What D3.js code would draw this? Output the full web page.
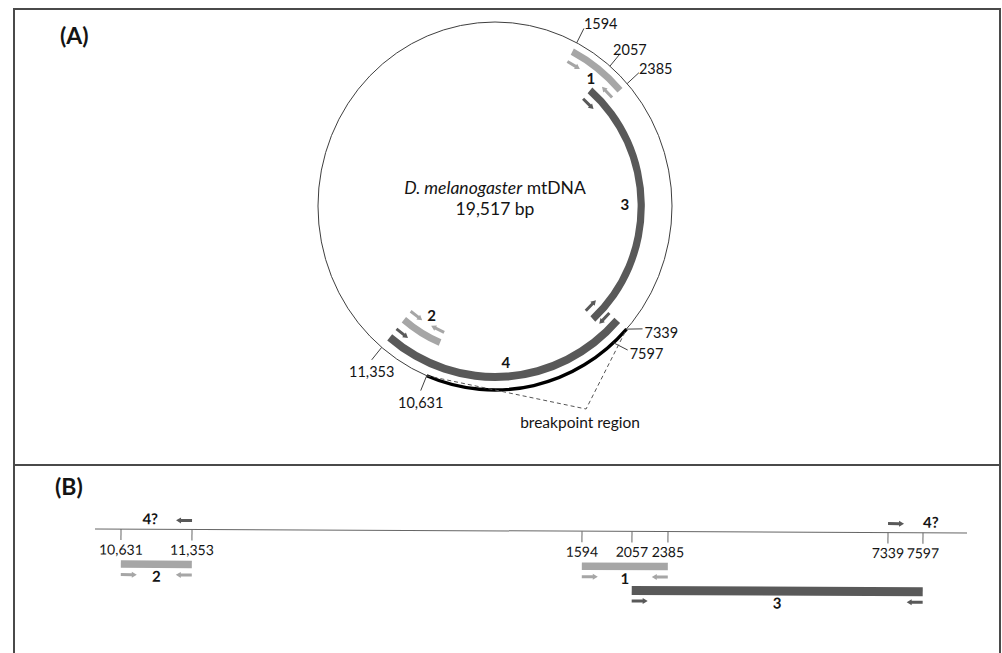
<!DOCTYPE html>
<html>
<head>
<meta charset="utf-8">
<script src="https://cdn.jsdelivr.net/npm/d3@7"></script>
<style>
  body { margin: 0; background: #fff; }
  svg { display: block; font-family: Lato, "Open Sans", sans-serif; }
</style>
</head>
<body>
<svg id="fig" width="1002" height="653"></svg>
<script>
// ---- data ----
const genomeSize = 19517;
const sitePos  = [1594, 2057, 2385, 7339, 7597, 10631, 11353];
const siteText = ["1594", "2057", "2385", "7339", "7597", "10,631", "11,353"];

const ampId    = ["1", "2", "3", "4"];
const ampStart = [1594, 10631, 2057, 7339];
const ampEnd   = [2385, 11353, 7597, 11353];
const ampTone  = ["light", "light", "dark", "dark"];

const breakpoint = [7339, 10631];

// panel B: linear view of the rearranged molecule, left to right
const linearSites = [10631, 11353, 1594, 2057, 2385, 7339, 7597];
const linearAmp   = ["2", "1", "3"];
// putative product 4: only the primers are shown
const q4Pos = [11353, 7339];
const q4Dir = [-1, 1];

const tone = { light: "#a6a6a6", dark: "#595959" };
const ink = "#141414";

const svg = d3.select("#fig");

// frame
const frame = svg.append("g").attr("fill", "none").attr("stroke", "#4a4a4a").attr("stroke-width", 2);
frame.append("path").attr("d", "M14,653V9H1000V653");
frame.append("line").attr("x1", 14).attr("x2", 1000).attr("y1", 465).attr("y2", 465);

svg.append("text").attr("x", 60).attr("y", 44).attr("font-size", 23).attr("font-weight", "bold").attr("fill", ink).text("(A)");
svg.append("text").attr("x", 55).attr("y", 495).attr("font-size", 23).attr("font-weight", "bold").attr("fill", ink).text("(B)");

// ---- panel A: circular map (schematic, not to scale) ----
const A = { cx: 495, cy: 206, r: 184, sx: 0.962 };
const rad = d => d * Math.PI / 180;
const angleOf = d3.scaleLinear()
  .domain([0, 1594, 2057, 2385, 7339, 7597, 10631, 11353, genomeSize])
  .range([0, 27.5, 40.5, 48.3, 132, 138, 202.7, 219.8, 360].map(rad));

const track = {
  "1": { r: 174, w: 7,   labelR: 162 },
  "2": { r: 148, w: 7,   labelR: 127 },
  "3": { r: 152, w: 7.5, labelR: 135 },
  "4": { r: 171, w: 8,   labelR: 156 }
};

function pt(a, r) { return [A.cx + A.sx * r * Math.sin(a), A.cy - r * Math.cos(a)]; }

function arrowShape(len, t, hw, hl) {
  return `M0,${-t / 2}H${len - hl}V${-hw}L${len},0L${len - hl},${hw}V${t / 2}H0Z`;
}

const gA = svg.append("g").attr("transform", `translate(${A.cx},${A.cy}) scale(${A.sx},1)`);
gA.append("circle").attr("r", A.r).attr("fill", "none").attr("stroke", "#3a3a3a").attr("stroke-width", 1);

const arc = d3.arc();
ampId.forEach((id, i) => {
  const t = track[id];
  gA.append("path")
    .attr("d", arc({ innerRadius: t.r - t.w / 2, outerRadius: t.r + t.w / 2,
      startAngle: angleOf(ampStart[i]), endAngle: angleOf(ampEnd[i]) }))
    .attr("fill", tone[ampTone[i]]);
});

// breakpoint region on the circle
gA.append("path")
  .attr("d", arc({ innerRadius: A.r - 1.7, outerRadius: A.r + 1.7,
    startAngle: angleOf(breakpoint[0]), endAngle: angleOf(breakpoint[1]) }))
  .attr("fill", "#000");

const gArrows = svg.append("g");
function arcArrow(a0, dir, rr, color) {
  const len = 15;
  const p0 = pt(a0, rr), p1 = pt(a0 + dir * len / rr, rr);
  const ang = Math.atan2(p1[1] - p0[1], p1[0] - p0[0]) * 180 / Math.PI;
  gArrows.append("path")
    .attr("d", arrowShape(Math.hypot(p1[0] - p0[0], p1[1] - p0[1]), 3, 3, 5))
    .attr("transform", `translate(${p0}) rotate(${ang})`)
    .attr("fill", color);
}

ampId.forEach((id, i) => {
  const t = track[id], c = tone[ampTone[i]];
  const a0 = angleOf(ampStart[i]), a1 = angleOf(ampEnd[i]);
  arcArrow(a0, 1, t.r - 11, c);
  arcArrow(a1, -1, t.r - 11, c);
  const p = pt((a0 + a1) / 2, t.labelR);
  svg.append("text").attr("x", p[0]).attr("y", p[1])
    .attr("text-anchor", "middle").attr("dominant-baseline", "central")
    .attr("font-size", 15).attr("font-weight", "bold").attr("fill", ink).text(id);
});

// site leaders and labels
const leaderTurn = { 7339: -44, 7597: -22 }; // bend so the two close labels stay apart
const gSites = svg.append("g");
sitePos.forEach((p, i) => {
  const a = angleOf(p);
  const s = pt(a, A.r);
  let dx = s[0] - A.cx, dy = s[1] - A.cy;
  const n = Math.hypot(dx, dy);
  const turn = rad(leaderTurn[p] || 0);
  const ux = (dx * Math.cos(turn) - dy * Math.sin(turn)) / n;
  const uy = (dx * Math.sin(turn) + dy * Math.cos(turn)) / n;
  const e = [s[0] + ux * 16, s[1] + uy * 16];
  gSites.append("line").attr("x1", s[0]).attr("y1", s[1]).attr("x2", e[0]).attr("y2", e[1])
    .attr("stroke", "#404040").attr("stroke-width", 1);
  const deg = a * 180 / Math.PI;
  const lab = gSites.append("text").attr("font-size", 14.5).attr("fill", ink).text(siteText[i]);
  if (deg < 90) lab.attr("x", e[0] - (p === 2057 ? 7 : 0)).attr("y", e[1] + 1);
  else if (deg < 180) lab.attr("x", e[0] + 2).attr("y", e[1] + 9);
  else lab.attr("x", e[0]).attr("y", e[1] + 17).attr("text-anchor", "middle");
});

// dashed bracket marking the breakpoint region
const apex = pt(rad(155), 224);
svg.append("path")
  .attr("d", d3.line()([pt(angleOf(breakpoint[1]), A.r), apex, pt(angleOf(breakpoint[0]), A.r)]))
  .attr("fill", "none").attr("stroke", "#555").attr("stroke-width", 1).attr("stroke-dasharray", "4,3");
svg.append("text").attr("x", apex[0] - 6).attr("y", apex[1] + 19)
  .attr("text-anchor", "middle").attr("font-size", 15.5).attr("fill", ink).text("breakpoint region");

// centre caption
const cap = svg.append("text").attr("text-anchor", "middle").attr("font-size", 17.5).attr("fill", ink);
cap.append("tspan").attr("x", A.cx).attr("y", 194).attr("font-style", "italic").text("D. melanogaster");
cap.append("tspan").text(" mtDNA");
svg.append("text").attr("x", A.cx).attr("y", 215).attr("text-anchor", "middle")
  .attr("font-size", 17.5).attr("fill", ink).text("19,517 bp");

// ---- panel B: linear view ----
const unwrap = p => p >= linearSites[0] ? p - genomeSize : p;
const xLin = d3.scaleLinear()
  .domain(linearSites.map(unwrap))
  .range([121, 192, 582, 632, 668, 888, 923]);

const gB = svg.append("g").attr("transform", "translate(0,529) rotate(0.26,95,0)");
gB.append("line").attr("x1", 95).attr("x2", 967).attr("y1", 0).attr("y2", 0)
  .attr("stroke", "#666").attr("stroke-width", 1);

gB.selectAll(".tick").data(linearSites).join("line")
  .attr("class", "tick")
  .attr("x1", d => xLin(unwrap(d))).attr("x2", d => xLin(unwrap(d)))
  .attr("y1", 0).attr("y2", 11).attr("stroke", "#666").attr("stroke-width", 1);

gB.selectAll(".tlab").data(linearSites).join("text")
  .attr("class", "tlab")
  .attr("x", d => xLin(unwrap(d))).attr("y", 25.5)
  .attr("text-anchor", "middle").attr("font-size", 14).attr("fill", ink)
  .text(d => siteText[sitePos.indexOf(d)]);

const lane = { "2": { y: 35, h: 7.5 }, "1": { y: 35, h: 7.5 }, "3": { y: 59, h: 9 } };

function barArrow(x, y, dir, color) {
  gB.append("path").attr("d", arrowShape(16, 3, 3, 5))
    .attr("transform", `translate(${x},${y}) scale(${dir},1)`)
    .attr("fill", color);
}

linearAmp.forEach(id => {
  const i = ampId.indexOf(id);
  const x0 = xLin(unwrap(ampStart[i])), x1 = xLin(unwrap(ampEnd[i]));
  const L = lane[id], c = tone[ampTone[i]];
  gB.append("rect").attr("x", x0).attr("y", L.y - L.h / 2).attr("width", x1 - x0).attr("height", L.h).attr("fill", c);
  barArrow(x0, L.y + 10.5, 1, c);
  barArrow(x1, L.y + 10.5, -1, c);
  gB.append("text").attr("x", (x0 + x1) / 2).attr("y", L.y + 11.5)
    .attr("text-anchor", "middle").attr("dominant-baseline", "central")
    .attr("font-size", 15).attr("font-weight", "bold").attr("fill", ink).text(id);
});

q4Pos.forEach((p, i) => {
  const x = xLin(unwrap(p));
  barArrow(x, -9, q4Dir[i], tone.dark);
  gB.append("text")
    .attr("x", q4Dir[i] < 0 ? x - 34 : xLin(unwrap(7597)))
    .attr("y", -5)
    .attr("text-anchor", q4Dir[i] < 0 ? "end" : "start")
    .attr("font-size", 15).attr("font-weight", "bold").attr("fill", ink).text("4?");
});
</script>
</body>
</html>
